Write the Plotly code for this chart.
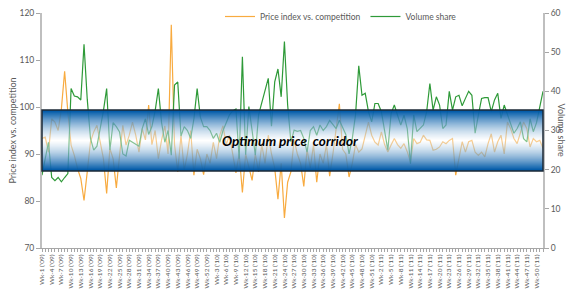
import plotly.graph_objects as go

# ---------------- data ----------------
years = ["'09", "'10", "'11"]
weeks_per_year = 52
weeks = [f"Wk-{w} ({y})" for y in years for w in range(1, weeks_per_year + 1)]

price_index = [
    93.3, 93.6, 90.4, 97.5, 96.8, 95.0, 99.6, 107.6, 98.9, 91.9,
    89.7, 86.9, 84.8, 80.1, 86.2, 92.6, 94.7, 96.1, 92.6, 89.0,
    81.6, 91.2, 89.0, 82.8, 89.7, 96.1, 91.9, 94.0, 96.8, 94.0,
    90.4, 95.4, 93.0, 100.4, 92.0, 95.0, 89.0, 93.0, 96.0, 90.0,
    117.5, 92.0, 86.2, 94.0, 86.5, 90.0, 95.0, 85.5, 91.0, 89.0,
    85.6, 90.0, 88.0, 92.5, 89.0, 94.0, 96.0, 92.0, 94.0, 90.0,
    86.0, 90.0, 81.8, 90.0, 87.0, 84.4, 90.0, 86.2, 92.0, 88.0,
    94.0, 90.0, 87.0, 80.4, 88.0, 76.4, 84.0, 86.2, 93.0, 90.0,
    88.0, 83.1, 91.0, 87.0, 92.0, 84.0, 90.0, 88.0, 92.0, 85.3,
    90.0, 95.0, 100.7, 91.0, 90.0, 85.1, 88.0, 92.0, 90.4, 91.1,
    94.0, 96.8, 94.0, 92.5, 91.9, 94.7, 92.0, 90.4, 91.9, 93.3,
    92.0, 91.2, 92.2, 90.5, 88.3, 93.3, 92.2, 92.5, 94.0, 93.0,
    92.9, 90.8, 91.0, 91.5, 92.6, 92.2, 92.9, 93.3, 85.5, 89.0,
    92.6, 90.4, 92.6, 92.9, 90.4, 89.7, 90.4, 89.4, 92.2, 94.3,
    90.4, 92.6, 94.0, 90.0, 96.8, 95.4, 93.3, 92.2, 94.7, 96.8,
    95.4, 91.5, 93.3, 92.6, 92.9, 91.2,
]

volume_share = [
    18.6, 23.0, 27.0, 18.0, 17.2, 18.0, 16.9, 18.0, 19.0, 40.7,
    38.8, 38.6, 37.8, 52.0, 38.0, 28.0, 25.0, 26.0, 30.5, 35.0,
    40.7, 25.0, 32.0, 31.0, 29.6, 24.0, 23.5, 27.5, 27.0, 26.5,
    26.0, 30.5, 33.0, 29.0, 31.0, 35.0, 40.7, 32.0, 27.0, 30.0,
    23.7, 41.6, 42.4, 28.6, 31.0, 30.0, 28.0, 33.0, 40.7, 33.4,
    31.0, 31.0, 30.0, 28.0, 29.3, 27.0, 30.0, 32.0, 34.0, 35.0,
    35.5, 22.8, 48.8, 23.8, 36.1, 30.0, 23.7, 34.0, 37.0, 40.7,
    43.3, 31.1, 42.4, 45.7, 38.6, 52.7, 36.5, 27.1, 30.1, 29.8,
    30.0, 28.0, 24.5, 30.0, 31.0, 28.8, 31.4, 30.0, 31.0, 32.6,
    31.5, 30.5, 32.6, 31.0, 29.0, 24.0, 28.0, 34.0, 46.5, 39.0,
    39.5, 34.8, 32.2, 36.9, 36.9, 34.8, 29.7, 25.0, 34.3, 36.5,
    33.9, 31.4, 33.9, 30.5, 21.5, 34.0, 29.7, 30.5, 31.4, 34.8,
    42.0, 35.2, 38.6, 36.5, 30.5, 31.4, 40.0, 35.2, 38.6, 39.0,
    36.3, 38.2, 40.0, 39.0, 29.3, 33.9, 38.2, 38.4, 38.4, 34.8,
    37.8, 39.5, 33.1, 36.5, 33.9, 31.4, 29.3, 30.5, 32.2, 27.9,
    27.1, 33.0, 29.7, 32.0, 36.0, 40.0,
]

corridor = [86.38, 99.36]        # optimum price corridor (price index units)
label_step = 3
tick_labels = [w if i % label_step == 0 else "" for i, w in enumerate(weeks)]

# ---------------- figure ----------------
FONT = "Lato, 'Open Sans', sans-serif"
GREY = "#595959"

fig = go.Figure()
fig.add_trace(go.Scatter(
    x=weeks, y=price_index, name="Price index vs. competition",
    mode="lines", line=dict(color="#f8ab40", width=1.2), yaxis="y"))
fig.add_trace(go.Scatter(
    x=weeks, y=volume_share, name="Volume share",
    mode="lines", line=dict(color="#2e9a38", width=1.2), yaxis="y2"))

# layout geometry (pixels) -> paper fractions
W, H = 570, 290
ML, MR, MT, MB = 42, 27, 2, 42
plot_top_px = 13
ydom_top = (H - MB - plot_top_px) / (H - MT - MB)
pw = W - ML - MR
ph_paper = H - MT - MB

def px_to_paper_y(py):
    return (H - MB - py) / ph_paper

# gradient band built from 1-pixel stripes (dark blue at edges, white in middle)
lo, hi = corridor
ymin, ymax = 70, 120
plot_h = H - MB - plot_top_px
top_px = round(plot_top_px + (ymax - hi) / (ymax - ymin) * plot_h)
bot_px = round(plot_top_px + (ymax - lo) / (ymax - ymin) * plot_h)
n = bot_px - top_px
shapes = []
for k in range(n):
    mid = (k + 0.5) / n
    t = abs(mid - 0.5) * 2          # 0 centre, 1 edge
    f = min(1.0, t ** 0.95 * 1.05)
    r = round(255 * (1 - f) + 0 * f)
    g = round(255 * (1 - f) + 90 * f)
    bl = round(255 * (1 - f) + 168 * f)
    op = 0.42 + 0.56 * f
    shapes.append(dict(type="rect", xref="paper", yref="paper", x0=0, x1=1,
                       y0=px_to_paper_y(top_px + k + 1), y1=px_to_paper_y(top_px + k),
                       fillcolor=f"rgba({r},{g},{bl},{op:.2f})", line=dict(width=0),
                       layer="above"))
shapes.append(dict(type="rect", xref="paper", yref="y", x0=0, x1=1, y0=lo, y1=hi,
                   fillcolor="rgba(0,0,0,0)", line=dict(color="#1b2836", width=1.5),
                   layer="above"))

fig.update_layout(
    width=W, height=H,
    margin=dict(l=ML, r=MR, t=MT, b=MB),
    paper_bgcolor="white", plot_bgcolor="white",
    font=dict(family=FONT, color=GREY, size=8),
    showlegend=True,
    legend=dict(orientation="h", x=(220 - ML) / pw, y=1.0, xanchor="left", yanchor="top",
                bgcolor="rgba(255,255,255,0.9)", font=dict(size=8.5, color=GREY),
                itemwidth=30, tracegroupgap=0),
    xaxis=dict(type="category", range=[0, len(weeks) - 1],
               tickmode="array", tickvals=weeks, ticktext=tick_labels,
               tickangle=-90, tickfont=dict(size=6.5, color=GREY),
               ticks="outside", ticklen=3, tickcolor="#a6a6a6",
               showline=True, linecolor="#a6a6a6", linewidth=1,
               showgrid=False, zeroline=False, automargin=False),
    yaxis=dict(range=[ymin, ymax], dtick=10, domain=[0, ydom_top],
               ticks="outside", ticklen=4,
               tickcolor="#a6a6a6", showline=True, linecolor="#bfbfbf", linewidth=2,
               showgrid=False, zeroline=False, tickfont=dict(size=8.5, color=GREY),
               automargin=False),
    yaxis2=dict(range=[0, 60], dtick=10, overlaying="y", side="right",
                ticks="outside", ticklen=4, tickcolor="#a6a6a6",
                showline=True, linecolor="#bfbfbf", linewidth=2,
                showgrid=False, zeroline=False, tickfont=dict(size=8.5, color=GREY),
                automargin=False),
    shapes=shapes,
    annotations=[
        dict(text="<b><i>Optimum price  corridor</i></b>", xref="paper", yref="y",
             x=(290 - ML) / pw, y=92.8, showarrow=False, xanchor="center",
             font=dict(size=13.5, color="black", family=FONT)),
        dict(text="Price index vs. competition", xref="paper", yref="y",
             x=(12 - ML) / pw, y=95, textangle=-90, showarrow=False,
             xanchor="center", yanchor="middle",
             font=dict(size=9, color=GREY)),
        dict(text="Volume share", xref="paper", yref="y",
             x=(561 - ML) / pw, y=95, textangle=90, showarrow=False,
             xanchor="center", yanchor="middle",
             font=dict(size=9, color=GREY)),
    ],
)

fig.write_html("out.html", config={"displayModeBar": False},
               post_script="document.body.style.margin='0';")
